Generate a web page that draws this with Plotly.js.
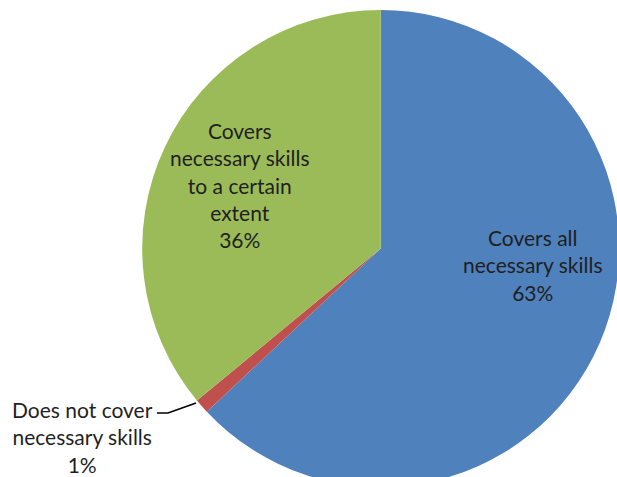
<!DOCTYPE html>
<html>
<head>
<meta charset="utf-8">
<script src="https://cdn.plot.ly/plotly-3.0.1.min.js"></script>
<style>
  html, body { margin: 0; padding: 0; background: #ffffff; overflow: hidden; width: 617px; height: 477px; }
  #chart { width: 700px; height: 560px; }
</style>
</head>
<body>
<div id="chart"></div>
<script>
// Data
const categories = ["Covers all necessary skills", "Does not cover necessary skills", "Covers necessary skills to a certain extent"];
const values = [63, 1, 36];
const displayLabels = ["Covers all<br>necessary skills", "Does not cover<br>necessary skills", "Covers<br>necessary skills<br>to a certain<br>extent"];
const colors = ["#4F81BD", "#C0504D", "#9BBB59"];

// Layout helpers (pixel -> paper for a 700x560 canvas)
const W = 700, H = 560;
const px = x => x / W;
const py = y => 1 - y / H;

const cx = 380.7, cy = 248.5, r = 238.5;

const trace = {
  type: "pie",
  labels: categories,
  values: values,
  sort: false,
  direction: "clockwise",
  rotation: 0,
  marker: { colors: colors, line: { width: 0 } },
  textinfo: "none",
  hoverinfo: "none",
  showlegend: false,
  domain: { x: [px(cx - r), px(cx + r)], y: [py(cy + r), py(cy - r)] }
};

const labelFont = { family: "Lato, 'Open Sans', sans-serif", size: 21, color: "#1f1f1f" };
const labelPos = [ [533, 265], [82, 437], [240, 185] ];
const annotations = values.map((v, i) => ({
  xref: "paper", yref: "paper",
  x: px(labelPos[i][0]), y: py(labelPos[i][1]),
  xanchor: "center", yanchor: "middle",
  align: "center",
  showarrow: false,
  text: displayLabels[i] + "<br>" + v + "%",
  font: labelFont
}));

const layout = {
  width: W, height: H,
  margin: { l: 0, r: 0, t: 0, b: 0 },
  paper_bgcolor: "#ffffff",
  plot_bgcolor: "#ffffff",
  annotations: annotations,
  shapes: [{
    type: "path", xref: "paper", yref: "paper",
    path: `M ${px(157)} ${py(413)} L ${px(168)} ${py(413)} L ${px(196)} ${py(403)}`,
    line: { color: "#000000", width: 1.5 }
  }]
};

Plotly.newPlot("chart", [trace], layout, { staticPlot: true, displayModeBar: false });
</script>
</body>
</html>
